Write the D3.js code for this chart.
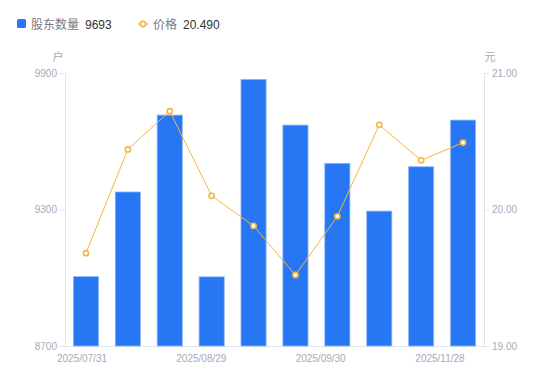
<!DOCTYPE html>
<html><head><meta charset="utf-8">
<script src="https://cdn.jsdelivr.net/npm/d3@7"></script>
<style>
html,body{margin:0;padding:0;background:#fff;}
svg{display:block;font-family:"Liberation Sans",Arial,"Noto Sans CJK SC",sans-serif;}
</style></head>
<body>
<svg id="c" width="550" height="381"></svg>
<script>
const categories = ["2025/07/31","2025/08/10","2025/08/20","2025/08/29","2025/09/10","2025/09/20","2025/09/30","2025/10/31","2025/11/14","2025/11/28"];
const holders = [9005, 9377, 9715, 9004, 9872, 9671, 9503, 9293, 9488, 9693];
const prices = [19.68, 20.44, 20.72, 20.10, 19.88, 19.52, 19.95, 20.62, 20.36, 20.49];
const xTickLabels = ["2025/07/31","2025/08/29","2025/09/30","2025/11/28"];
const leftTicks = [8700, 9300, 9900];
const rightTicks = [19, 20, 21];
const legendNames = ["股东数量","价格"];
const unitLeft = "户", unitRight = "元";

const svg = d3.select("#c");
const L = 65, R = 484, T = 73, B = 346;
const blue = "#2777f5", orange = "#f8b53c", axisC = "#e3e4e8", tickC = "#a6a9b6";

const x = d3.scaleBand().domain(categories).range([L, R]).paddingInner(0.4).paddingOuter(0.2);
const xc = d3.scalePoint().domain(categories).range([L, R]).padding(0.5);
const xl = d3.scalePoint().domain(categories).range([L + 17, R - 44]);
const yL = d3.scaleLinear().domain([8700, 9900]).range([B, T]);
const yR = d3.scaleLinear().domain([19, 21]).range([B, T]);

// axes
const gl = svg.append("g").attr("transform", `translate(${L},0)`)
  .call(d3.axisLeft(yL).tickValues(leftTicks).tickSize(5).tickPadding(3).tickFormat(d3.format("d")));
const gr = svg.append("g").attr("transform", `translate(${R},0)`)
  .call(d3.axisRight(yR).tickValues(rightTicks).tickSize(5).tickPadding(3).tickFormat(d3.format(".2f")));
[gl, gr].forEach(g => {
  g.select(".domain").attr("stroke", axisC);
  g.selectAll(".tick line").attr("stroke", axisC);
  g.selectAll(".tick text").attr("fill", tickC).attr("font-size", 10).attr("font-family", "Liberation Sans, Arial, sans-serif");
});
// bottom baseline
svg.append("line").attr("x1", L).attr("x2", R).attr("y1", B + 0.5).attr("y2", B + 0.5).attr("stroke", axisC);

// x labels
svg.append("g").selectAll("text").data(xTickLabels).join("text")
  .attr("x", d => xl(d)).attr("y", B + 16).attr("text-anchor", "middle")
  .attr("font-size", 10).attr("fill", tickC).text(d => d);

// units
svg.append("text").attr("x", 58).attr("y", 61).attr("text-anchor", "middle").attr("font-size", 11).attr("fill", tickC)
  .attr("font-family", "Noto Sans CJK SC, sans-serif").text(unitLeft);
svg.append("text").attr("x", 490).attr("y", 61).attr("text-anchor", "middle").attr("font-size", 11).attr("fill", tickC)
  .attr("font-family", "Noto Sans CJK SC, sans-serif").text(unitRight);

// bars
svg.append("g").selectAll("rect").data(holders).join("rect")
  .attr("x", (d, i) => x(categories[i])).attr("width", x.bandwidth())
  .attr("y", d => yL(d)).attr("height", d => B - yL(d))
  .attr("fill", blue).attr("stroke", "#8fb6f8").attr("stroke-width", 0.8);

// line
const line = d3.line().x((d, i) => xc(categories[i])).y(d => yR(d));
svg.append("path").datum(prices).attr("d", line).attr("fill", "none").attr("stroke", orange).attr("stroke-width", 1);
svg.append("g").selectAll("circle").data(prices).join("circle")
  .attr("cx", (d, i) => xc(categories[i])).attr("cy", d => yR(d)).attr("r", 2.6)
  .attr("fill", "#fff").attr("stroke", orange).attr("stroke-width", 1.6);

// legend
const lg = svg.append("g");
lg.append("rect").attr("x", 17).attr("y", 19).attr("width", 9).attr("height", 9).attr("rx", 1.5).attr("fill", blue);
lg.append("text").attr("x", 31).attr("y", 28.5).attr("font-size", 12).attr("fill", "#777a86")
  .attr("font-family", "Noto Sans CJK SC, sans-serif").text(legendNames[0]);
lg.append("text").attr("x", 85).attr("y", 28.5).attr("font-size", 12).attr("fill", "#333").text(d3.format("d")(holders[holders.length - 1]));
lg.append("line").attr("x1", 138).attr("x2", 148).attr("y1", 24).attr("y2", 24).attr("stroke", orange).attr("stroke-width", 1.5);
lg.append("circle").attr("cx", 143).attr("cy", 24).attr("r", 2.6).attr("fill", "#fff").attr("stroke", orange).attr("stroke-width", 1.6);
lg.append("text").attr("x", 153).attr("y", 28.5).attr("font-size", 12).attr("fill", "#777a86")
  .attr("font-family", "Noto Sans CJK SC, sans-serif").text(legendNames[1]);
lg.append("text").attr("x", 183).attr("y", 28.5).attr("font-size", 12).attr("fill", "#333").text(d3.format(".3f")(prices[prices.length - 1]));
</script>
</body></html>
